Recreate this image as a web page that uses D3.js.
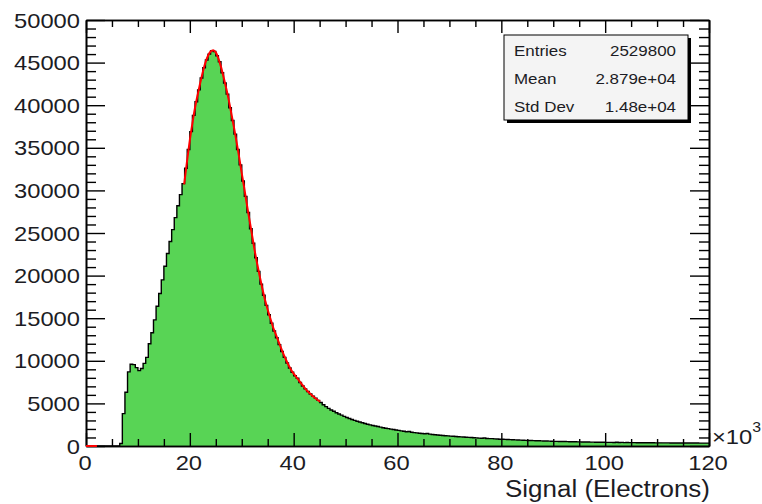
<!DOCTYPE html>
<html>
<head>
<meta charset="utf-8">
<script src="https://cdn.jsdelivr.net/npm/d3@7"></script>
<style>
  html, body { margin: 0; padding: 0; background: #fff; }
  svg text { font-family: "Liberation Sans", Arial, sans-serif; fill: #1c1c24; }
</style>
</head>
<body>
<div id="chart"></div>
<script>
// ── Data ──────────────────────────────────────────────────────────────────────
// Signal histogram, x in units of 10^3 electrons, bins of 0.5 starting at 0.
const BIN_START = 0;
const BIN_WIDTH = 0.5;
const COUNTS = [
  0, 0, 0, 0, 0, 0, 0, 0, 0, 0,
  0, 0, 0, 300, 3800, 6300, 8700, 9600, 9550, 9200,
  8850, 9100, 9700, 10400, 12000, 13300, 14800, 16400, 17900, 19500,
  21100, 22600, 24000, 25400, 26800, 28200, 29500, 30800, 32600, 34800,
  36900, 38800, 40400, 41800, 43200, 44400, 45300, 46000, 46400, 46300,
  45800, 45100, 43800, 42600, 41300, 39700, 38200, 36600, 34800, 33000,
  31100, 29300, 27400, 25500, 23800, 22100, 20500, 19000, 17700, 16500,
  15400, 14400, 13500, 12700, 11900, 11100, 10400, 9750, 9150, 8650,
  8250, 7950, 7450, 7050, 6700, 6400, 6100, 5850, 5600, 5350,
  5100, 4850, 4620, 4420, 4230, 4080, 3900, 3760, 3620, 3480,
  3350, 3230, 3110, 3010, 2900, 2820, 2730, 2640, 2560, 2480,
  2410, 2340, 2280, 2210, 2150, 2090, 2040, 1980, 1930, 1880,
  1830, 1770, 1730, 1680, 1710, 1610, 1570, 1540, 1500, 1470,
  1440, 1460, 1390, 1350, 1320, 1290, 1260, 1240, 1210, 1190,
  1160, 1140, 1110, 1090, 1070, 1050, 1030, 1010, 990, 970,
  950, 930, 915, 935, 885, 870, 870, 840, 820, 800,
  790, 775, 760, 745, 730, 715, 700, 690, 680, 665,
  650, 640, 630, 620, 610, 600, 590, 580, 570, 560,
  548, 540, 535, 526, 520, 512, 505, 498, 492, 486,
  480, 474, 468, 462, 457, 452, 447, 442, 437, 432,
  428, 424, 420, 416, 432, 408, 421, 402, 412, 398,
  395, 392, 389, 386, 384, 381, 379, 376, 374, 372,
  370, 368, 366, 364, 362, 360, 358, 357, 355, 353,
  352, 350, 349, 347, 346, 344, 343, 341, 340, 338
];

// Fitted function (red), as seen on the picture
const FIT_X = [18.9, 19.5, 20.0, 20.5, 21.0, 21.5, 22.0, 22.5, 23.0, 23.5, 24.0, 24.5,
  25.0, 25.5, 26.0, 26.5, 27.0, 27.5, 28.0, 28.5, 29.0, 29.5, 30.0, 30.5, 31.0, 31.5,
  32.0, 32.5, 33.0, 33.5, 34.0, 34.5, 35.0, 35.5, 36.0, 36.5, 37.0, 37.5, 38.0, 38.5,
  39.0, 39.5, 40.0, 40.5, 41.0, 41.5, 42.0, 42.5, 43.0, 43.5, 44.0, 44.5, 45.1];
const FIT_Y = [30700, 33600, 35900, 37900, 39700, 41200, 42600, 43900, 45000, 45800, 46300, 46450,
  46200, 45500, 44500, 43300, 42000, 40600, 39000, 37400, 35700, 33900, 32000, 30200, 28300, 26500,
  24700, 22900, 21300, 19800, 18400, 17100, 16000, 15000, 14000, 13200, 12400, 11600, 10850, 10150,
  9500, 8950, 8500, 8100, 7700, 7300, 6900, 6550, 6250, 5950, 5700, 5450, 5200];
// short piece of the fit visible at the very left, at zero
const FIT_LOW_X = [0, 2.1];

const X_DOMAIN = [0, 120];
const Y_DOMAIN = [0, 50000];
const X_MAJOR = [0, 20, 40, 60, 80, 100, 120];
const Y_MAJOR = [0, 5000, 10000, 15000, 20000, 25000, 30000, 35000, 40000, 45000, 50000];

const STATS_LABELS = ['Entries', 'Mean', 'Std Dev'];
const STATS_VALUES = ['2529800', '2.879e+04', '1.48e+04'];

const X_TITLE = 'Signal (Electrons)';

// ── Layout ────────────────────────────────────────────────────────────────────
const W = 762, H = 504;
const F = { left: 86, right: 709, top: 20, bottom: 446 };
const SX = 1.13;          // the reference is stretched horizontally
const GREEN = '#58d455';

const svg = d3.select('#chart').append('svg')
  .attr('width', W).attr('height', H);

const x = d3.scaleLinear().domain(X_DOMAIN).range([F.left, F.right]);
const y = d3.scaleLinear().domain(Y_DOMAIN).range([F.bottom, F.top]);

function label(str, px, py, size, anchor) {
  return svg.append('text')
    .attr('transform', `translate(${px},${py}) scale(${SX},1)`)
    .attr('font-size', size)
    .attr('text-anchor', anchor)
    .text(str);
}

// ── Histogram ─────────────────────────────────────────────────────────────────
const bins = COUNTS.map((c, i) => ({ e: BIN_START + i * BIN_WIDTH, c }));
bins.push({ e: BIN_START + COUNTS.length * BIN_WIDTH, c: COUNTS[COUNTS.length - 1] });

svg.append('path')
  .datum(bins)
  .attr('fill', GREEN)
  .attr('d', d3.area().curve(d3.curveStepAfter)
    .x(d => x(d.e)).y0(y(0)).y1(d => y(d.c)));

svg.append('path')
  .datum(bins)
  .attr('fill', 'none')
  .attr('stroke', '#000')
  .attr('stroke-width', 1.4)
  .attr('d', d3.line().curve(d3.curveStepAfter)
    .x(d => x(d.e)).y(d => y(d.c)));

// ── Axes (ticks on all four sides, pointing inward) ───────────────────────────
const xMinor = d3.range(X_DOMAIN[0], X_DOMAIN[1] + 0.01, 5).filter(v => v % 20 !== 0);
const yMinor = d3.range(Y_DOMAIN[0], Y_DOMAIN[1] + 1, 1000).filter(v => v % 5000 !== 0);

function styleAxis(a) {
  a.selectAll('line').attr('stroke', '#000').attr('stroke-width', 1.4);
  a.select('.domain').attr('stroke', '#000').attr('stroke-width', 1.6);
}

[[d3.axisBottom, F.bottom, 1], [d3.axisTop, F.top, 1]].forEach(([ax, pos]) => {
  svg.append('g').attr('transform', `translate(0,${pos})`)
    .call(ax(x).tickValues(xMinor).tickSize(-7).tickSizeOuter(0).tickFormat(''))
    .call(styleAxis);
  svg.append('g').attr('transform', `translate(0,${pos})`)
    .call(ax(x).tickValues(X_MAJOR).tickSize(-13).tickSizeOuter(0).tickFormat(''))
    .call(styleAxis);
});

[[d3.axisLeft, F.left], [d3.axisRight, F.right]].forEach(([ax, pos]) => {
  svg.append('g').attr('transform', `translate(${pos},0)`)
    .call(ax(y).tickValues(yMinor).tickSize(-10).tickSizeOuter(0).tickFormat(''))
    .call(styleAxis);
  svg.append('g').attr('transform', `translate(${pos},0)`)
    .call(ax(y).tickValues(Y_MAJOR).tickSize(-19).tickSizeOuter(0).tickFormat(''))
    .call(styleAxis);
});

// ── Fit curve ─────────────────────────────────────────────────────────────────
svg.append('path')
  .datum(FIT_X.map((v, i) => [v, FIT_Y[i]]))
  .attr('fill', 'none')
  .attr('stroke', '#ff0000')
  .attr('stroke-width', 2)
  .attr('d', d3.line().curve(d3.curveMonotoneX).x(d => x(d[0])).y(d => y(d[1])));

svg.append('line')
  .attr('x1', x(FIT_LOW_X[0])).attr('x2', x(FIT_LOW_X[1]))
  .attr('y1', y(0)).attr('y2', y(0))
  .attr('stroke', '#ff0000').attr('stroke-width', 2);

// ── Tick labels ───────────────────────────────────────────────────────────────
Y_MAJOR.forEach(v => label(String(v), F.left - 6, y(v) + 7.5, 21, 'end'));
X_MAJOR.forEach(v => label(String(v), x(v) - 1, 470, 21, 'middle'));

const expo = label('×10', 712, 444, 21, 'start');
expo.append('tspan').attr('font-size', 14).attr('dy', -12).text('3');

label(X_TITLE, 710, 497, 23, 'end');

// ── Stats box ─────────────────────────────────────────────────────────────────
const box = { x: 504, y: 35, w: 184, h: 85 };
svg.append('rect')
  .attr('x', box.x + 3).attr('y', box.y + 3)
  .attr('width', box.w).attr('height', box.h)
  .attr('fill', '#000');
svg.append('rect')
  .attr('x', box.x).attr('y', box.y)
  .attr('width', box.w).attr('height', box.h)
  .attr('fill', '#f4f4f4').attr('stroke', '#000').attr('stroke-width', 1);

STATS_LABELS.forEach((s, i) => {
  label(s, box.x + 10, 56 + i * 28, 15, 'start');
  label(STATS_VALUES[i], box.x + box.w - 12, 56 + i * 28, 15, 'end');
});
</script>
</body>
</html>
